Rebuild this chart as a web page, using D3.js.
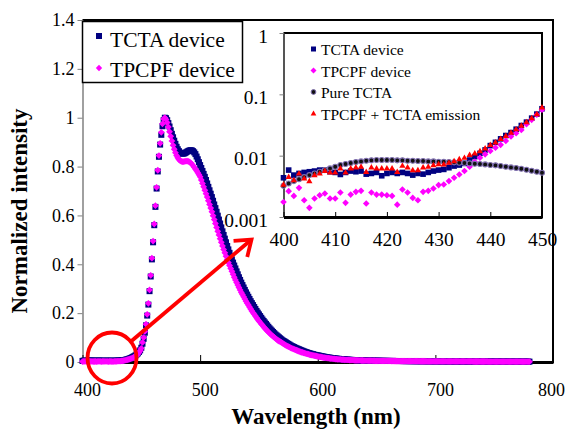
<!DOCTYPE html>
<html lang="en">
<head>
<meta charset="UTF-8">
<title>Normalized EL spectra</title>
<script src="https://d3js.org/d3.v7.min.js"></script>
<style>
  body { margin: 0; background: #fff; }
  svg { display: block; font-family: "Liberation Serif", "Times New Roman", serif; }
  svg text { font-family: "Liberation Serif", "Times New Roman", serif; }
  .axis text { fill: #000; }
</style>
</head>
<body>
<svg width="569" height="432"></svg>
<script>
// ---- data (wavelength in nm, 1 nm steps) ----
const wlInset = d3.range(400, 451);
const wlMain = d3.range(400, 781);

// 400-450 nm, log inset
const tctaDeviceInset = [0.00436, 0.00582, 0.00482, 0.00513, 0.00533, 0.00547, 0.00561, 0.00582, 0.00582, 0.00547,
  0.00533, 0.00494, 0.00533, 0.00561, 0.00547, 0.00561, 0.00500, 0.00513, 0.00533, 0.00470,
  0.00513, 0.00533, 0.00513, 0.00533, 0.00513, 0.00482, 0.00513, 0.00500, 0.00533, 0.00561,
  0.00582, 0.00597, 0.00636, 0.00677, 0.00703, 0.00748, 0.00849, 0.00964, 0.0109, 0.0124,
  0.0146, 0.0165, 0.0188, 0.0213, 0.0238, 0.0270, 0.0310, 0.0352, 0.0409, 0.0476, 0.0582];
const tpcpfDeviceInset = [0.00176, 0.00264, 0.00221, 0.00299, 0.00188, 0.00141, 0.00200, 0.00226, 0.00241, 0.00200,
  0.00200, 0.00251, 0.00170, 0.00232, 0.00257, 0.00267, 0.00166, 0.00251, 0.00232, 0.00232,
  0.00226, 0.00221, 0.00159, 0.00281, 0.00251, 0.00205, 0.00188, 0.00257, 0.00267, 0.00291,
  0.00331, 0.00339, 0.00385, 0.00436, 0.00494, 0.00561, 0.00661, 0.00797, 0.00927, 0.0105,
  0.0119, 0.0135, 0.0150, 0.0174, 0.0205, 0.0232, 0.0263, 0.0326, 0.0384, 0.0464, 0.0561];
const pureTcta = [0.00322, 0.00352, 0.00385, 0.00414, 0.00447, 0.00482, 0.00513, 0.00547, 0.00582, 0.00620,
  0.00661, 0.00703, 0.00730, 0.00759, 0.00787, 0.00807, 0.00828, 0.00838, 0.00849, 0.00849,
  0.00849, 0.00849, 0.00838, 0.00838, 0.00828, 0.00828, 0.00818, 0.00818, 0.00807, 0.00807,
  0.00797, 0.00797, 0.00787, 0.00778, 0.00768, 0.00759, 0.00748, 0.00739, 0.00730, 0.00721,
  0.00703, 0.00695, 0.00677, 0.00661, 0.00644, 0.00628, 0.00612, 0.00589, 0.00567, 0.00547, 0.00526];
const tpcpfTctaEmission = [0.00339, 0.00453, 0.00399, 0.00513, 0.00425, 0.00385, 0.00482, 0.00513, 0.00567, 0.00533,
  0.00533, 0.00620, 0.00533, 0.00620, 0.00644, 0.00661, 0.00547, 0.00644, 0.00620, 0.00620,
  0.00620, 0.00620, 0.00547, 0.00686, 0.00644, 0.00582, 0.00582, 0.00644, 0.00661, 0.00703,
  0.00730, 0.00721, 0.00768, 0.00818, 0.00882, 0.00927, 0.0103, 0.0109, 0.0119, 0.0132,
  0.0150, 0.0165, 0.0188, 0.0210, 0.0238, 0.0270, 0.0310, 0.0352, 0.0409, 0.0476, 0.0612];

// 451-780 nm, main linear plot
const tctaDeviceTail = [
  0.075, 0.095, 0.12, 0.15, 0.19, 0.235, 0.29, 0.35, 0.42, 0.49,
  0.56, 0.635, 0.71, 0.78, 0.84, 0.89, 0.93, 0.965, 0.99, 1.0,
  0.998, 0.99, 0.978, 0.964, 0.949, 0.934, 0.92, 0.906, 0.893, 0.881,
  0.871, 0.863, 0.857, 0.854, 0.853, 0.853, 0.855, 0.858, 0.861, 0.864,
  0.866, 0.867, 0.866, 0.863, 0.858, 0.851, 0.841, 0.83, 0.818, 0.806,
  0.794, 0.782, 0.77, 0.758, 0.745, 0.731, 0.717, 0.703, 0.689, 0.675,
  0.66, 0.645, 0.63, 0.615, 0.599, 0.583, 0.567, 0.551, 0.535, 0.52,
  0.505, 0.49, 0.475, 0.461, 0.447, 0.433, 0.42, 0.407, 0.395, 0.383,
  0.371, 0.359, 0.347, 0.336, 0.325, 0.315, 0.305, 0.295, 0.285, 0.276,
  0.267, 0.258, 0.249, 0.241, 0.233, 0.225, 0.217, 0.209, 0.202, 0.195,
  0.188, 0.181, 0.174, 0.168, 0.162, 0.156, 0.15, 0.144, 0.138, 0.133,
  0.128, 0.123, 0.118, 0.113, 0.109, 0.105, 0.101, 0.097, 0.093, 0.089,
  0.086, 0.083, 0.08, 0.077, 0.074, 0.071, 0.068, 0.065, 0.063, 0.061,
  0.058, 0.056, 0.054, 0.052, 0.05, 0.048, 0.046, 0.044, 0.042, 0.04,
  0.039, 0.037, 0.036, 0.034, 0.033, 0.032, 0.03, 0.029, 0.028, 0.027,
  0.026, 0.025, 0.024, 0.023, 0.022, 0.021, 0.02, 0.019, 0.018, 0.018,
  0.017, 0.016, 0.016, 0.015, 0.014, 0.014, 0.013, 0.013, 0.012, 0.012,
  0.011, 0.011, 0.011, 0.010, 0.0097, 0.0094, 0.0091, 0.0088, 0.0085, 0.0083,
  0.008, 0.0078, 0.0076, 0.0074, 0.0072, 0.007, 0.0068, 0.0067, 0.0065, 0.0064,
  0.0062, 0.0061, 0.006, 0.0059, 0.0058, 0.0057, 0.0056, 0.0055, 0.0054, 0.0053,
  0.0052, 0.0051, 0.005, 0.0049, 0.0048, 0.0048, 0.0047, 0.0046, 0.0046, 0.0045,
  0.0044, 0.0044, 0.0043, 0.0043, 0.0042, 0.0042, 0.0041, 0.0041, 0.004, 0.004,
  0.0039, 0.0039, 0.0038, 0.0038, 0.0037, 0.0037, 0.0036, 0.0036, 0.0036, 0.0035,
  0.0035, 0.0034, 0.0034, 0.0034, 0.0033, 0.0033, 0.0033, 0.0032, 0.0032, 0.0032,
  0.0031, 0.0031, 0.0031, 0.003, 0.003, 0.003, 0.0029, 0.0029, 0.0029, 0.0029,
  0.0028, 0.0028, 0.0028, 0.0028, 0.0027, 0.0027, 0.0027, 0.0027, 0.0026, 0.0026,
  0.0026, 0.0026, 0.0026, 0.0025, 0.0025, 0.0025, 0.0025, 0.0025, 0.0024, 0.0024,
  0.0024, 0.0024, 0.0024, 0.0023, 0.0023, 0.0023, 0.0023, 0.0023, 0.0023, 0.0022,
  0.0022, 0.0022, 0.0022, 0.0022, 0.0022, 0.0021, 0.0021, 0.0021, 0.0021, 0.0021,
  0.0021, 0.002, 0.002, 0.002, 0.002, 0.002, 0.002, 0.002, 0.0019, 0.0019,
  0.0019, 0.0019, 0.0019, 0.0019, 0.0019, 0.0018, 0.0018, 0.0018, 0.0018, 0.0018,
  0.0018, 0.0018, 0.0017, 0.0017, 0.0017, 0.0017, 0.0017, 0.0017, 0.0017, 0.0016,
  0.0016, 0.0016, 0.0016, 0.0016, 0.0016, 0.0016, 0.0016, 0.0015, 0.0015, 0.0015];
const tpcpfDeviceTail = [
  0.08, 0.10, 0.125, 0.155, 0.195, 0.24, 0.295, 0.355, 0.425, 0.495,
  0.565, 0.64, 0.715, 0.785, 0.845, 0.895, 0.94, 0.975, 0.995, 1.0,
  0.993, 0.98, 0.962, 0.943, 0.924, 0.905, 0.887, 0.871, 0.857, 0.845,
  0.836, 0.829, 0.824, 0.821, 0.82, 0.82, 0.821, 0.822, 0.822, 0.821,
  0.819, 0.815, 0.81, 0.804, 0.797, 0.79, 0.783, 0.775, 0.767, 0.758,
  0.745, 0.731, 0.717, 0.703, 0.689, 0.675, 0.66, 0.645, 0.63, 0.615,
  0.599, 0.583, 0.567, 0.551, 0.535, 0.52, 0.505, 0.49, 0.475, 0.461,
  0.447, 0.433, 0.42, 0.407, 0.395, 0.383, 0.371, 0.359, 0.347, 0.336,
  0.325, 0.315, 0.305, 0.295, 0.285, 0.276, 0.267, 0.258, 0.249, 0.241,
  0.233, 0.225, 0.217, 0.209, 0.202, 0.195, 0.188, 0.181, 0.174, 0.168,
  0.162, 0.156, 0.15, 0.144, 0.138, 0.133, 0.128, 0.123, 0.118, 0.113,
  0.109, 0.105, 0.101, 0.097, 0.093, 0.089, 0.086, 0.083, 0.08, 0.077,
  0.074, 0.071, 0.068, 0.065, 0.063, 0.061, 0.058, 0.056, 0.054, 0.052,
  0.05, 0.048, 0.046, 0.044, 0.042, 0.04, 0.039, 0.037, 0.036, 0.034,
  0.033, 0.032, 0.03, 0.029, 0.028, 0.027, 0.026, 0.025, 0.024, 0.023,
  0.022, 0.021, 0.02, 0.019, 0.018, 0.018, 0.017, 0.016, 0.016, 0.015,
  0.014, 0.014, 0.013, 0.013, 0.012, 0.012, 0.011, 0.011, 0.011, 0.010,
  0.0097, 0.0094, 0.0091, 0.0088, 0.0085, 0.0083, 0.008, 0.0078, 0.0076, 0.0074,
  0.0072, 0.007, 0.0068, 0.0067, 0.0065, 0.0064, 0.0062, 0.0061, 0.006, 0.0059,
  0.0058, 0.0057, 0.0056, 0.0055, 0.0054, 0.0053, 0.0052, 0.0051, 0.005, 0.0049,
  0.0048, 0.0048, 0.0047, 0.0046, 0.0046, 0.0045, 0.0044, 0.0044, 0.0043, 0.0043,
  0.0042, 0.0042, 0.0041, 0.0041, 0.004, 0.004, 0.0039, 0.0039, 0.0038, 0.0038,
  0.0037, 0.0037, 0.0036, 0.0036, 0.0036, 0.0035, 0.0035, 0.0034, 0.0034, 0.0034,
  0.0033, 0.0033, 0.0033, 0.0032, 0.0032, 0.0032, 0.0031, 0.0031, 0.0031, 0.003,
  0.003, 0.003, 0.0029, 0.0029, 0.0029, 0.0029, 0.0028, 0.0028, 0.0028, 0.0028,
  0.0027, 0.0027, 0.0027, 0.0027, 0.0026, 0.0026, 0.0026, 0.0026, 0.0026, 0.0025,
  0.0025, 0.0025, 0.0025, 0.0025, 0.0024, 0.0024, 0.0024, 0.0024, 0.0024, 0.0023,
  0.0023, 0.0023, 0.0023, 0.0023, 0.0023, 0.0022, 0.0022, 0.0022, 0.0022, 0.0022,
  0.0022, 0.0021, 0.0021, 0.0021, 0.0021, 0.0021, 0.0021, 0.002, 0.002, 0.002,
  0.002, 0.002, 0.002, 0.002, 0.0019, 0.0019, 0.0019, 0.0019, 0.0019, 0.0019,
  0.0019, 0.0018, 0.0018, 0.0018, 0.0018, 0.0018, 0.0018, 0.0018, 0.0017, 0.0017,
  0.0017, 0.0017, 0.0017, 0.0017, 0.0017, 0.0017, 0.0016, 0.0016, 0.0016, 0.0016,
  0.0016, 0.0016, 0.0016, 0.0016, 0.0015, 0.0015, 0.0015, 0.0015, 0.0015, 0.0015];

// same measurement, full range
const tctaDevice = tctaDeviceInset.concat(tctaDeviceTail);
const tpcpfDevice = tpcpfDeviceInset.concat(tpcpfDeviceTail);

const xTicks = [400, 500, 600, 700, 800];
const xTickLabels = ["400", "500", "600", "700", "800"];
const yTicks = [0, 0.2, 0.4, 0.6, 0.8, 1.0, 1.2, 1.4];
const yTickLabels = ["0", "0.2", "0.4", "0.6", "0.8", "1", "1.2", "1.4"];
const xTicksInset = [400, 410, 420, 430, 440, 450];
const xTickLabelsInset = ["400", "410", "420", "430", "440", "450"];
const yTicksInset = [0.001, 0.01, 0.1, 1];
const yTickLabelsInset = ["0.001", "0.01", "0.1", "1"];

const mainLegend = ["TCTA device", "TPCPF device"];
const insetLegend = ["TCTA device", "TPCPF device", "Pure TCTA", "TPCPF + TCTA emission"];

const NAVY = "#000080", MAGENTA = "#ff00ff", RED = "#ff0000";
const diamond = r => `M0,${-r}L${r},0L0,${r}L${-r},0Z`;
const triangle = s => `M0,${-s}L${s * 0.95},${s * 0.65}L${-s * 0.95},${s * 0.65}Z`;

const svg = d3.select("svg");

// ---- main plot ----
const x = d3.scaleLinear().domain([400, 800]).range([82.5, 553]);
const y = d3.scaleLinear().domain([0, 1.4]).range([362, 20]);

svg.append("line").attr("x1", 82.5).attr("x2", 553).attr("y1", 20).attr("y2", 20)
  .attr("stroke", "#000").attr("stroke-width", 2);
svg.append("line").attr("x1", 553).attr("x2", 553).attr("y1", 19).attr("y2", 363)
  .attr("stroke", "#000").attr("stroke-width", 2);

const yAxis = svg.append("g").attr("class", "axis")
  .attr("transform", "translate(82.5,0)")
  .call(d3.axisLeft(y).tickValues(yTicks).tickFormat((d, i) => yTickLabels[i])
    .tickSize(5).tickSizeOuter(0).tickPadding(3))
  .attr("font-size", 18);
yAxis.select(".domain").attr("stroke", "#808080").attr("stroke-width", 1.5);
yAxis.selectAll(".tick line").attr("stroke", "#808080");

const xAxis = svg.append("g").attr("class", "axis")
  .attr("transform", "translate(0,362)")
  .call(d3.axisBottom(x).tickValues(xTicks).tickFormat((d, i) => xTickLabels[i])
    .tickSize(-7).tickSizeOuter(0).tickPadding(21.5))
  .attr("font-size", 18);
xAxis.select(".domain").attr("stroke", "#000").attr("stroke-width", 3);
xAxis.selectAll(".tick line").attr("stroke", "#000");
xAxis.selectAll("text").attr("dx", (d, i) => i === xTicks.length - 1 ? -2 : 4.5);

const main = svg.append("g");
main.selectAll("rect.tcta").data(wlMain).join("rect").attr("class", "tcta")
  .attr("x", (d, i) => x(d) - 3).attr("y", (d, i) => y(tctaDevice[i]) - 3)
  .attr("width", 6).attr("height", 6).attr("fill", NAVY);
main.selectAll("path.tpcpf").data(wlMain).join("path").attr("class", "tpcpf")
  .attr("d", diamond(3.4))
  .attr("transform", (d, i) => `translate(${x(d)},${y(tpcpfDevice[i])})`)
  .attr("fill", MAGENTA);

// main legend
const lg = svg.append("g");
lg.append("rect").attr("x", 82.5).attr("y", 21.5).attr("width", 160).attr("height", 61)
  .attr("fill", "#fff").attr("stroke", "#000").attr("stroke-width", 1.5);
lg.append("rect").attr("x", 96).attr("y", 33).attr("width", 6).attr("height", 6).attr("fill", NAVY);
lg.append("path").attr("d", diamond(3.2)).attr("transform", "translate(99,68)").attr("fill", MAGENTA);
lg.selectAll("text").data(mainLegend).join("text")
  .attr("x", 110).attr("y", (d, i) => 46.5 + i * 30.5)
  .attr("font-size", 21.5).text(d => d);

// axis titles
svg.append("text").attr("x", 316).attr("y", 424).attr("text-anchor", "middle")
  .attr("font-size", 23).attr("font-weight", "bold").text("Wavelength (nm)");
svg.append("text").attr("transform", "translate(27,211) rotate(-90)").attr("text-anchor", "middle")
  .attr("font-size", 23).attr("font-weight", "bold").text("Normalized intensity");

// ---- inset ----
const xi = d3.scaleLinear().domain([400, 450]).range([283.5, 542]);
const yi = d3.scaleLog().domain([0.001, 1]).range([217, 33]);

svg.append("rect").attr("x", 283.5).attr("y", 33).attr("width", 542 - 283.5).attr("height", 184)
  .attr("fill", "#fff");
svg.append("line").attr("x1", 283.5).attr("x2", 542).attr("y1", 33).attr("y2", 33)
  .attr("stroke", "#000").attr("stroke-width", 2);
svg.append("line").attr("x1", 542).attr("x2", 542).attr("y1", 32).attr("y2", 218)
  .attr("stroke", "#000").attr("stroke-width", 2);

const yiAxis = svg.append("g").attr("class", "axis")
  .attr("transform", "translate(283.5,0)")
  .call(d3.axisLeft(yi).tickValues(yTicksInset).tickFormat((d, i) => yTickLabelsInset[i])
    .tickSize(4).tickSizeOuter(0).tickPadding(11.5))
  .attr("font-size", 19.5);
yiAxis.select(".domain").attr("stroke", "#555").attr("stroke-width", 2);
yiAxis.selectAll(".tick line").attr("stroke", "#808080");
yiAxis.selectAll("text").attr("y", 3);

const xiAxis = svg.append("g").attr("class", "axis")
  .attr("transform", "translate(0,217)")
  .call(d3.axisBottom(xi).tickValues(xTicksInset).tickFormat((d, i) => xTickLabelsInset[i])
    .tickSize(-5).tickSizeOuter(0).tickPadding(15.5))
  .attr("font-size", 19.5);
xiAxis.select(".domain").attr("stroke", "#000").attr("stroke-width", 3);
xiAxis.selectAll(".tick line").attr("stroke", "#000");

const ins = svg.append("g");
ins.selectAll("rect.tcta").data(wlInset).join("rect").attr("class", "tcta")
  .attr("x", d => xi(d) - 2.8).attr("y", (d, i) => yi(tctaDeviceInset[i]) - 2.8)
  .attr("width", 5.6).attr("height", 5.6).attr("fill", NAVY);
ins.selectAll("path.tpcpf").data(wlInset).join("path").attr("class", "tpcpf")
  .attr("d", diamond(3.3))
  .attr("transform", (d, i) => `translate(${xi(d)},${yi(tpcpfDeviceInset[i])})`)
  .attr("fill", MAGENTA);
ins.selectAll("circle.pure").data(wlInset).join("circle").attr("class", "pure")
  .attr("cx", d => xi(d)).attr("cy", (d, i) => yi(pureTcta[i])).attr("r", 2.5)
  .attr("fill", "#111").attr("stroke", "#8070b0").attr("stroke-width", 1.1);
ins.selectAll("path.emis").data(wlInset).join("path").attr("class", "emis")
  .attr("d", triangle(3.3))
  .attr("transform", (d, i) => `translate(${xi(d)},${yi(tpcpfTctaEmission[i])})`)
  .attr("fill", RED);

// inset legend
const il = svg.append("g");
const rowY = i => 49 + i * 21.5;
il.append("rect").attr("x", 311).attr("y", rowY(0) - 2.5).attr("width", 5).attr("height", 5).attr("fill", NAVY);
il.append("path").attr("d", diamond(3)).attr("transform", `translate(313.5,${rowY(1)})`).attr("fill", MAGENTA);
il.append("circle").attr("cx", 313.5).attr("cy", rowY(2)).attr("r", 2.4)
  .attr("fill", "#111").attr("stroke", "#8070b0").attr("stroke-width", 1);
il.append("path").attr("d", triangle(3)).attr("transform", `translate(313.5,${rowY(3)})`).attr("fill", RED);
il.selectAll("text").data(insetLegend).join("text")
  .attr("x", 321).attr("y", (d, i) => rowY(i) + 6)
  .attr("font-size", 15.5).text(d => d);

// ---- annotation: circle + arrow ----
const ann = svg.append("g").attr("stroke", RED).attr("stroke-width", 3.8).attr("fill", "none");
ann.append("ellipse").attr("cx", 112).attr("cy", 358).attr("rx", 24.5).attr("ry", 25.5);
const a0 = [131.5, 341], a1 = [251.5, 239.5];
ann.append("line").attr("x1", a0[0]).attr("y1", a0[1]).attr("x2", a1[0]).attr("y2", a1[1]);
const back = Math.atan2(a0[1] - a1[1], a0[0] - a1[0]);
const wing = a => [a1[0] + 18 * Math.cos(back + a), a1[1] + 18 * Math.sin(back + a)];
const w1 = wing(0.63), w2 = wing(-0.63);
ann.append("path").attr("d", `M${w1}L${a1}L${w2}`).attr("stroke-linejoin", "miter");
</script>
</body>
</html>
